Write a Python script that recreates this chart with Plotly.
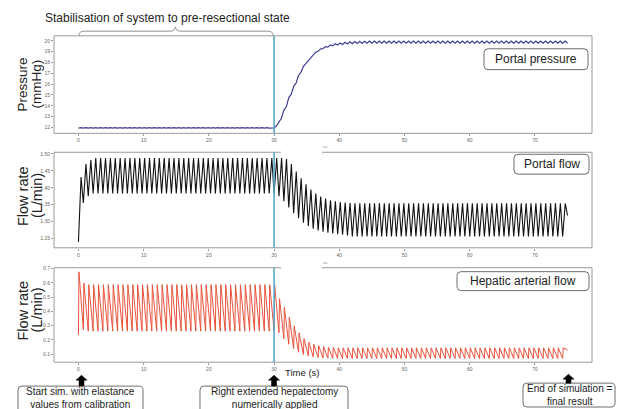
import plotly.graph_objects as go

# ---------------- data ----------------
BEAT_PERIOD_S = 0.75
END_TIME_S = 75.0
X_TICKS = [0, 10, 20, 30, 40, 50, 60, 70]
RESECTION_TIME_S = 30

# portal pressure (mmHg): value at start of each beat, value at mid-beat
pressure_trough = [11.93] * 40 + [11.95, 12.55, 13.6, 14.75, 15.8, 16.8, 17.65, 18.25, 18.72, 19.03,
                                  19.27, 19.42, 19.53, 19.6, 19.66, 19.7, 19.73, 19.75, 19.76] + [19.77] * 41
pressure_peak = [11.97] * 40 + [12.15, 12.85, 13.9, 15.05, 16.1, 17.1, 17.9, 18.5, 18.95, 19.25,
                                19.47, 19.62, 19.72, 19.8, 19.86, 19.9, 19.93, 19.95, 19.96] + [19.97] * 41
pressure_end = 19.77
PRESSURE_TICKS = [12, 13, 14, 15, 16, 17, 18, 19, 20]

# portal flow (L/min)
flow_trough = [1.24, 1.355, 1.375] + [1.383] * 37 + [1.383, 1.375, 1.36, 1.342, 1.325, 1.31, 1.297, 1.287,
                                                      1.279, 1.274, 1.27, 1.267, 1.265, 1.263, 1.261, 1.259] + [1.256] * 44
flow_peak = [1.432, 1.47, 1.482] + [1.488] * 37 + [1.488, 1.488, 1.485, 1.47, 1.448, 1.428, 1.41, 1.395,
                                                   1.383, 1.374, 1.368, 1.363, 1.36, 1.358, 1.356, 1.355] + [1.354] * 44
flow_end = 1.318
FLOW_TICKS = [1.25, 1.30, 1.35, 1.40, 1.45, 1.50]

# hepatic arterial flow (L/min)
ha_trough = [0.235, 0.27] + [0.262] * 38 + [0.262, 0.25, 0.21, 0.17, 0.14, 0.115, 0.098, 0.088, 0.081,
                                           0.077, 0.074, 0.072, 0.071] + [0.07] * 47
ha_peak = [0.678, 0.60] + [0.588] * 38 + [0.588, 0.49, 0.43, 0.36, 0.30, 0.25, 0.21, 0.185, 0.17,
                                         0.16, 0.155, 0.15, 0.148] + [0.145] * 47
ha_end = 0.13
HA_TICKS = [0.1, 0.2, 0.3, 0.4, 0.5, 0.6, 0.7]

# ---------------- helpers ----------------
W, H = 620, 409
FONT = "Liberation Sans, Arial, Helvetica, sans-serif"


def px(x):
    return x / W


def py(y):
    return 1 - y / H


def waveform(trough, peak, peak_offset, end_value):
    t, y = [], []
    for i, (lo, hi) in enumerate(zip(trough, peak)):
        t0 = i * BEAT_PERIOD_S
        t += [t0, t0 + peak_offset]
        y += [lo, hi]
    t.append(END_TIME_S)
    y.append(end_value)
    return t, y


def path(points, close=False):
    s = "M " + " L ".join(f"{px(a):.5f},{py(b):.5f}" for a, b in points)
    return s + (" Z" if close else "")


def rrect(x0, y0, x1, y1, r=4):
    P = lambda a, b: f"{px(a):.5f},{py(b):.5f}"
    return (f"M {P(x0 + r, y0)} L {P(x1 - r, y0)} Q {P(x1, y0)} {P(x1, y0 + r)} "
            f"L {P(x1, y1 - r)} Q {P(x1, y1)} {P(x1 - r, y1)} L {P(x0 + r, y1)} "
            f"Q {P(x0, y1)} {P(x0, y1 - r)} L {P(x0, y0 + r)} Q {P(x0, y0)} {P(x0 + r, y0)} Z")


def arrow(cx, top, bottom, hw=5.5, sw=2.5, hh=5):
    return path([(cx, top), (cx + hw, top + hh), (cx + sw, top + hh), (cx + sw, bottom),
                 (cx - sw, bottom), (cx - sw, top + hh), (cx - hw, top + hh)], close=True)


# ---------------- figure ----------------
fig = go.Figure()

tp, yp = waveform(pressure_trough, pressure_peak, 0.375, pressure_end)
tf, yf = waveform(flow_trough, flow_peak, 0.4, flow_end)
th, yh = waveform(ha_trough, ha_peak, 0.08, ha_end)

fig.add_trace(go.Scatter(x=tp, y=yp, mode="lines", line=dict(color="#3c3d94", width=1.2),
                         xaxis="x", yaxis="y", showlegend=False, hoverinfo="skip"))
fig.add_trace(go.Scatter(x=tf, y=yf, mode="lines", line=dict(color="#111111", width=1.1),
                         xaxis="x2", yaxis="y2", showlegend=False, hoverinfo="skip"))
fig.add_trace(go.Scatter(x=th, y=yh, mode="lines", line=dict(color="#e8533c", width=1),
                         xaxis="x3", yaxis="y3", showlegend=False, hoverinfo="skip"))

XDOM = [px(54), px(592)]
panels = [(34, 132), (151, 247), (267, 362)]
yranges = [[11.45, 20.46], [1.2225, 1.505], [0.044, 0.707]]
yticks = [PRESSURE_TICKS, FLOW_TICKS, HA_TICKS]
yfmt = ["d", ".2f", ".1f"]

tickfont = dict(family=FONT, size=5, color="#666666")
for k, ((top, bot), yr, yt, fmt) in enumerate(zip(panels, yranges, yticks, yfmt)):
    sfx = "" if k == 0 else str(k + 1)
    fig.update_layout(**{
        f"xaxis{sfx}": dict(domain=XDOM, range=[-3.75, 78.75], anchor=f"y{sfx}",
                            tickvals=X_TICKS, ticktext=[str(v) for v in X_TICKS],
                            ticks="outside", ticklen=2, tickcolor="#999999", tickwidth=0.8,
                            tickfont=tickfont, showgrid=False, zeroline=False, showline=False),
        f"yaxis{sfx}": dict(domain=[py(bot), py(top)], range=yr, anchor=f"x{sfx}",
                            tickvals=yt, tickformat=fmt,
                            ticks="outside", ticklen=2, tickcolor="#999999", tickwidth=0.8,
                            tickfont=tickfont, showgrid=False, zeroline=False, showline=False),
    })

shapes = []
border = dict(color="#9a9a9a", width=1)
# top panel: full frame
shapes.append(dict(type="rect", xref="paper", yref="paper", x0=px(54), x1=px(592), y0=py(132), y1=py(34),
                   line=border, layer="above"))
# middle and bottom panels: frame with a gap in the top edge
for top, bot in panels[1:]:
    shapes.append(dict(type="path", xref="paper", yref="paper",
                       path=path([(281, top), (54, top), (54, bot), (592, bot), (592, top), (322, top)]),
                       line=border, layer="above"))

# resection marker line in each panel
for k in range(3):
    sfx = "" if k == 0 else str(k + 1)
    shapes.append(dict(type="line", xref=f"x{sfx}", yref=f"y{sfx} domain", x0=RESECTION_TIME_S,
                       x1=RESECTION_TIME_S, y0=0, y1=1, line=dict(color="#57a9cb", width=1.6), layer="above"))

# brace over the stabilisation phase
P = lambda a, b: f"{px(a):.5f},{py(b):.5f}"
brace = (f"M {P(79, 33.5)} Q {P(79, 29.3)} {P(84, 29.3)} L {P(170, 29.3)} Q {P(175, 29.3)} {P(175.5, 25)} "
         f"Q {P(176, 29.3)} {P(181, 29.3)} L {P(268, 29.3)} Q {P(273, 29.3)} {P(273, 33.5)}")
shapes.append(dict(type="path", xref="paper", yref="paper", path=brace, line=dict(color="#858585", width=0.9)))

# label boxes
box_line = dict(color="#6e6e6e", width=1)
for x0, y0, x1, y1 in [(484, 47, 588, 68), (514, 153, 589, 173), (457, 271, 589, 290),
                       (18, 386, 143, 414), (200, 386, 348, 414), (523, 383, 615, 407)]:
    shapes.append(dict(type="path", xref="paper", yref="paper", path=rrect(x0, y0, x1, y1),
                       line=box_line, fillcolor="white"))

# arrows
for cx, top, bot in [(81.5, 375, 386), (274, 375, 386), (568.5, 374, 383)]:
    shapes.append(dict(type="path", xref="paper", yref="paper", path=arrow(cx, top, bot),
                       line=dict(color="black", width=0.5), fillcolor="black"))

annotations = []


def label(text, x, y, size, color="#222222", angle=0):
    annotations.append(dict(text=text, x=px(x), y=py(y), xref="paper", yref="paper", showarrow=False,
                            xanchor="center", yanchor="middle", textangle=angle,
                            font=dict(family=FONT, size=size, color=color)))


label("Stabilisation of system to pre-resectional state", 167.5, 16, 12)
label("Portal pressure", 536, 57.5, 12)
label("Portal flow", 551.5, 163, 12)
label("Hepatic arterial flow", 523, 280.5, 12)
label("Pressure", 23, 83, 13.5, angle=-90)
label("(mmHg)", 37, 83, 13.5, angle=-90)
label("Flow rate", 23, 195, 14.5, angle=-90)
label("(L/min)", 37, 195, 14.5, angle=-90)
label("Flow rate", 23, 310, 14.5, angle=-90)
label("(L/min)", 37, 310, 14.5, angle=-90)
label("Time (s)", 302, 372, 9.5)
label("Start sim. with elastance<br>values from calibration", 80.5, 397.5, 10)
label("Right extended hepatectomy<br>numerically applied", 274, 397.5, 10)
label("End of simulation =<br>final result", 569, 394.5, 10)
label("ca", 325, 145, 4, color="#888888")
label("ca", 325, 262, 4, color="#888888")

fig.update_layout(width=W, height=H, margin=dict(l=0, r=0, t=0, b=0),
                  paper_bgcolor="white", plot_bgcolor="white",
                  shapes=shapes, annotations=annotations, hovermode=False,
                  font=dict(family=FONT))

fig.write_html("out.html", config={"displayModeBar": False},
               post_script="document.body.style.margin='0';document.body.style.padding='0';")
